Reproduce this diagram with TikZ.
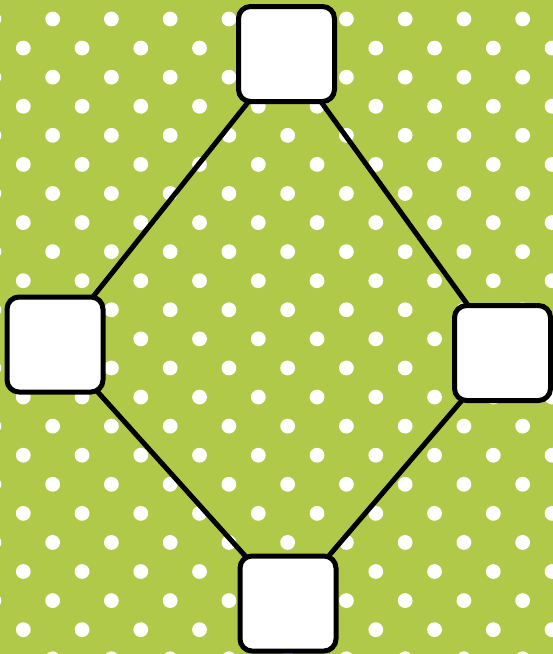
\documentclass[tikz,border=0pt]{standalone}
\usetikzlibrary{positioning}

\definecolor{leafgreen}{RGB}{177,201,72}
\pgfdeclarelayer{paper}
\pgfdeclarelayer{edges}
\pgfsetlayers{paper,edges,main}

\tikzset{
  tile/.style={draw, line width=5pt, rounded corners=12pt, fill=white, minimum width=96pt, minimum height=95pt, inner sep=0pt},
  link/.style={line width=5pt}
}

\begin{document}
\begin{tikzpicture}[x=1pt, y=-1pt, line cap=round, line join=round]

\useasboundingbox (0,0) rectangle (553,654);

% polka dot paper
\begin{pgfonlayer}{paper}
\fill[leafgreen] (0,0) rectangle (553,654);
\foreach \r in {0,...,22} {
  \pgfmathsetmacro{\xoff}{isodd(\r) ? 23.3 : -6.1}
  \foreach \c in {0,...,10} {
    \fill[white] ({\xoff+58.75*\c}, {19+29.08*\r}) circle (7.4);
  }
}
\end{pgfonlayer}

\node[tile] (top) at (286.5,54) {};
\node[tile] (left) at (55,344.5) {};
\node[tile] (right) at (502.5,353) {};
\node[tile] (bottom) at (288,603.5) {};

\begin{pgfonlayer}{edges}
\draw[link] (top.center) -- (left.center);
\draw[link] (top.center) -- (right.center);
\draw[link] (left.center) -- (bottom.center);
\draw[link] (right.center) -- (bottom.center);
\end{pgfonlayer}

\end{tikzpicture}
\end{document}
